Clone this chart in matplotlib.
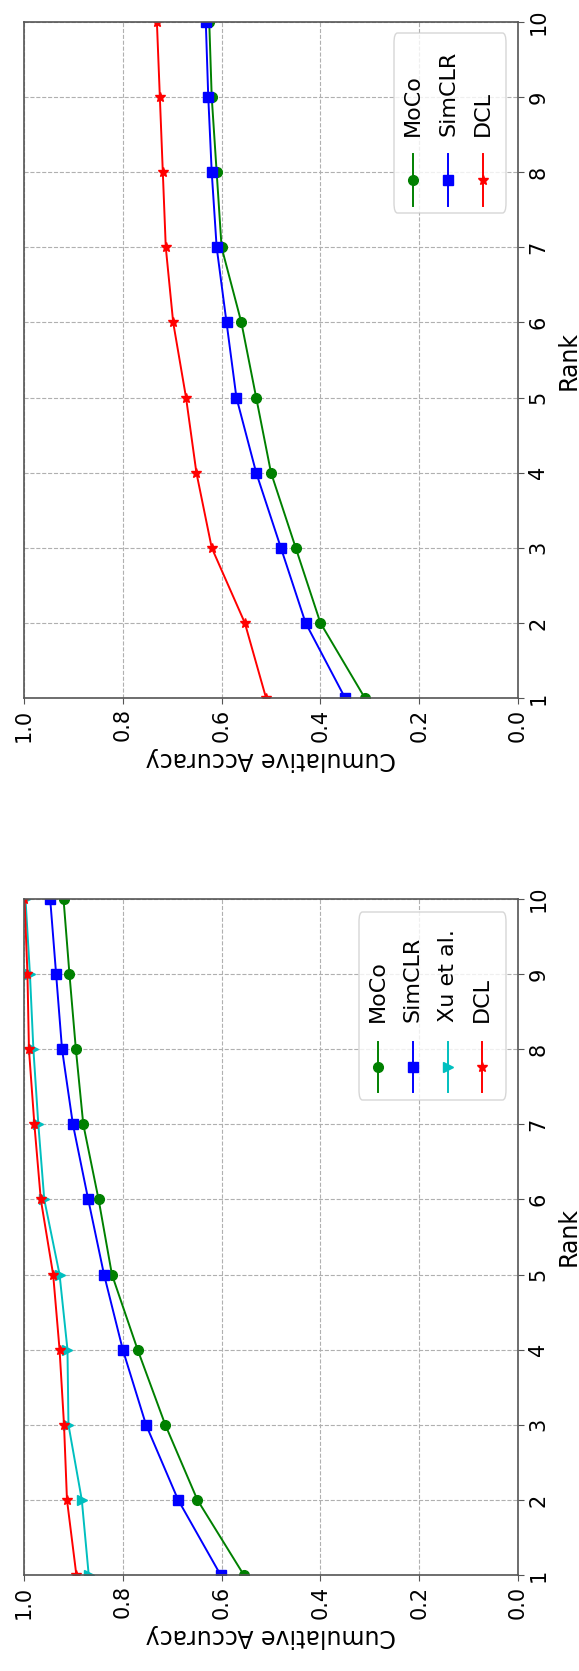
import matplotlib
matplotlib.use("Agg")
import matplotlib.pyplot as plt
from matplotlib.lines import Line2D
from matplotlib.patches import FancyBboxPatch

# ─── Data ─────────────────────────────────────────────────────────────────────
ranks = [1, 2, 3, 4, 5, 6, 7, 8, 9, 10]
acc_ticks = [0.0, 0.2, 0.4, 0.6, 0.8, 1.0]

# upper panel (three methods)
top_moco   = [0.31, 0.40, 0.45, 0.50, 0.53, 0.56, 0.60, 0.61, 0.62, 0.625]
top_simclr = [0.35, 0.43, 0.48, 0.53, 0.57, 0.59, 0.61, 0.62, 0.627, 0.632]
top_dcl    = [0.51, 0.553, 0.62, 0.651, 0.672, 0.698, 0.713, 0.719, 0.725, 0.731]

# lower panel (four methods)
bot_moco   = [0.555, 0.649, 0.714, 0.770, 0.822, 0.849, 0.880, 0.895, 0.908, 0.920]
bot_simclr = [0.602, 0.688, 0.753, 0.800, 0.838, 0.870, 0.901, 0.923, 0.935, 0.947]
bot_xu     = [0.869, 0.883, 0.910, 0.912, 0.928, 0.959, 0.971, 0.981, 0.988, 0.997]
bot_dcl    = [0.894, 0.913, 0.919, 0.928, 0.941, 0.966, 0.979, 0.990, 0.993, 0.999]

STYLE = {
    "MoCo":        dict(color="g", marker="o", ms=7),
    "SimCLR":      dict(color="b", marker="s", ms=7),
    "Xu et al.":   dict(color="c", marker=">", ms=7),
    "DCL":         dict(color="r", marker="*", ms=7),
}

W, H = 579, 1671
fig = plt.figure(figsize=(W / 100, H / 100), dpi=100)


def px(x, y):
    """pixel (top-left origin) -> figure fraction"""
    return x / W, 1 - y / H


def make_axes(top, bottom):
    l, b = px(24, bottom)
    ax = fig.add_axes([l, b, (518 - 24) / W, (bottom - top) / H])
    ax.set_xlim(1.0, 0.0)
    ax.set_ylim(1, 10)
    ax.set_xticks(acc_ticks)
    ax.set_xticklabels([f"{t:.1f}" for t in acc_ticks], rotation=90, fontsize=15)
    ax.set_yticks(ranks)
    ax.yaxis.tick_right()
    ax.yaxis.set_label_position("right")
    ax.set_yticklabels([str(r) for r in ranks], rotation=90, va="center", fontsize=15)
    ax.set_xlabel("Cumulative Accuracy", rotation=180, fontsize=17, labelpad=4)
    ax.set_ylabel("Rank", rotation=90, fontsize=17, labelpad=6)
    ax.grid(True, linestyle="--", color="#b0b0b0", linewidth=0.8)
    for s in ax.spines.values():
        s.set_color("#555555")
        s.set_linewidth(1.2)
    ax.tick_params(colors="#555555", labelcolor="black", length=4)
    return ax


def draw_series(ax, series):
    for name, vals in series:
        st = STYLE[name]
        ax.plot(vals, ranks, color=st["color"], marker=st["marker"],
                markersize=st["ms"], linewidth=1.4)


def draw_legend(names, box, handle_x, y_text, y0, y1):
    x0, yb0 = px(box[0], box[3])
    x1, yb1 = px(box[2], box[1])
    fig.add_artist(FancyBboxPatch((x0, yb0), x1 - x0, yb1 - yb0,
                                  boxstyle="round,pad=0,rounding_size=0.006",
                                  transform=fig.transFigure, facecolor="white",
                                  edgecolor="#cccccc", alpha=0.8, linewidth=1))
    for name, hx in zip(names, handle_x):
        st = STYLE[name]
        xa, ya = px(hx, y0)
        _, yb = px(hx, y1)
        ym = (ya + yb) / 2
        fig.add_artist(Line2D([xa, xa, xa], [ya, ym, yb], transform=fig.transFigure,
                              color=st["color"], marker=st["marker"], markevery=[1],
                              markersize=st["ms"], linewidth=1.4))
        tx, ty = px(hx, y_text)
        fig.text(tx, ty, name, rotation=90, ha="center", va="bottom", fontsize=16)


ax_top = make_axes(22, 698)
draw_series(ax_top, [("MoCo", top_moco), ("SimCLR", top_simclr), ("DCL", top_dcl)])
draw_legend(["MoCo", "SimCLR", "DCL"], (394, 33, 506, 213),
            [413, 448, 483], 136, 154, 206)

ax_bot = make_axes(899, 1575)
draw_series(ax_bot, [("MoCo", bot_moco), ("SimCLR", bot_simclr),
                     ("Xu et al.", bot_xu), ("DCL", bot_dcl)])
draw_legend(["MoCo", "SimCLR", "Xu et al.", "DCL"], (359, 912, 506, 1100),
            [378, 413, 448, 482], 1022, 1042, 1092)

fig.savefig("out.png", dpi=100)
